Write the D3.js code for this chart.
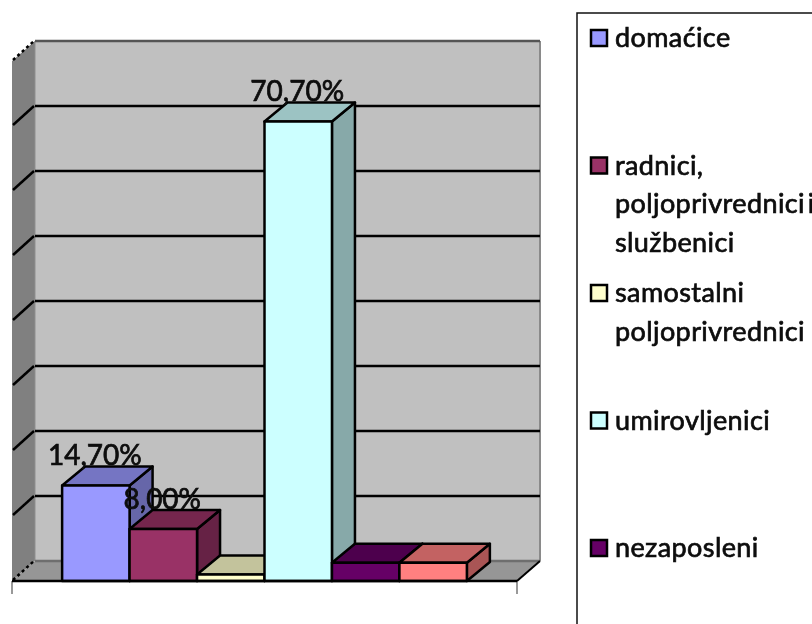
<!DOCTYPE html>
<html>
<head>
<meta charset="utf-8">
<script src="https://cdn.jsdelivr.net/npm/d3@7"></script>
<style>
  html, body { margin: 0; padding: 0; background: #fff; overflow: hidden; }
  svg { display: block; }
  text { font-family: Lato, "Open Sans", sans-serif; fill: #0c0c0c; }
</style>
</head>
<body>
<svg id="chart" width="812" height="624"></svg>
<script>
"use strict";

// values, in percent
let categories = ["domaćice", "radnici", "samostalni", "umirovljenici", "nezaposleni", "ostali"];
let values = [14.7, 8.0, 1.0, 70.7, 2.8, 2.8];
let barLabels = ["14,70%", "8,00%", "", "70,70%", "", ""];
let barColors = ["#9999ff", "#993366", "#ffffcc", "#ccffff", "#660066", "#ff8080"];
let gridTicks = [0, 10, 20, 30, 40, 50, 60, 70, 80];
let legendLines = [
  ["domaćice"],
  ["radnici,", "poljoprivrednici i", "službenici"],
  ["samostalni", "poljoprivrednici"],
  ["umirovljenici"],
  ["nezaposleni"]
];

let svg = d3.select("#chart");

// the reference is a slightly soft upscaled screenshot
svg.append("defs").append("filter").attr("id", "soft")
  .attr("x", 0).attr("y", 0).attr("width", "100%").attr("height", "100%")
  .attr("filterUnits", "userSpaceOnUse")
  .append("feGaussianBlur").attr("stdDeviation", 0.5);

let root = svg.append("g").attr("filter", "url(#soft)");

let plot = { left: 12, right: 517, bottom: 581, top: 61 };
let depth = { x: 23, y: 20 };
let barDepth = { x: 23, y: 19 };

let xScale = d3.scaleBand().domain(categories)
  .range([plot.left, plot.right]).paddingInner(0).paddingOuter(0.743);
let yScale = d3.scaleLinear().domain([0, 80]).range([plot.bottom, plot.top]);

function poly(points) {
  return d3.line()(points) + "Z";
}

function drawWalls() {
  let g = root.append("g");
  let y0 = yScale(0), yMax = yScale(80);
  let backLeft = plot.left + depth.x, backRight = plot.right + depth.x;

  g.append("rect").attr("width", 812).attr("height", 624).attr("fill", "#fff");
  g.append("path") // back wall
    .attr("d", poly([[backLeft, yMax - depth.y], [backRight, yMax - depth.y], [backRight, y0 - depth.y], [backLeft, y0 - depth.y]]))
    .attr("fill", "#c0c0c0");
  g.append("path") // side wall
    .attr("d", poly([[plot.left, yMax], [backLeft, yMax - depth.y], [backLeft, y0 - depth.y], [plot.left, y0]]))
    .attr("fill", "#808080");
  g.append("path") // floor
    .attr("d", poly([[plot.left, y0], [backLeft, y0 - depth.y], [backRight, y0 - depth.y], [plot.right, y0]]))
    .attr("fill", "#969696");

  // wall edges
  g.append("line")
    .attr("x1", backRight).attr("x2", backRight)
    .attr("y1", yMax - depth.y).attr("y2", y0 - depth.y)
    .attr("stroke", "#8a8a8a").attr("stroke-width", 2);
  g.append("line")
    .attr("x1", backLeft).attr("x2", backLeft)
    .attr("y1", yMax - depth.y).attr("y2", y0 - depth.y)
    .attr("stroke", "#8f8f8f").attr("stroke-width", 1);

  // gridlines, the outer ones are softer
  g.selectAll(".grid").data(gridTicks).enter().append("line").classed("grid", true)
    .attr("x1", backLeft).attr("x2", backRight)
    .attr("y1", d => yScale(d) - depth.y).attr("y2", d => yScale(d) - depth.y)
    .attr("stroke", d => d === 0 ? "#6e6e6e" : d === 80 ? "#555" : "#000")
    .attr("stroke-width", 2.5);
  g.selectAll(".grid-side").data(gridTicks).enter().append("line").classed("grid-side", true)
    .attr("x1", plot.left + 1).attr("x2", backLeft - 1)
    .attr("y1", d => yScale(d) - 1).attr("y2", d => yScale(d) - depth.y)
    .attr("stroke", "#000").attr("stroke-width", 2.5)
    .attr("stroke-dasharray", d => (d === 0 || d === 80) ? "3 3" : null);

  // category ticks at both ends of the floor
  g.selectAll(".x-tick").data([plot.left, plot.right]).enter().append("line").classed("x-tick", true)
    .attr("x1", d => d).attr("x2", d => d)
    .attr("y1", plot.bottom).attr("y2", plot.bottom + 13)
    .attr("stroke", "#777").attr("stroke-width", 1.5);

  // right edge of the floor
  g.append("line")
    .attr("x1", plot.right).attr("x2", backRight)
    .attr("y1", y0).attr("y2", y0 - depth.y)
    .attr("stroke", "#000").attr("stroke-width", 2);
}

function drawBars() {
  let g = root.append("g");
  let w = xScale.bandwidth();

  categories.forEach((cat, i) => {
    let x = xScale(cat), yTop = yScale(values[i]), yBase = yScale(0);
    let color = d3.rgb(barColors[i]);
    let dx = barDepth.x, dy = barDepth.y;

    let faces = [
      { pts: [[x + w, yTop], [x + w + dx, yTop - dy], [x + w + dx, yBase - dy], [x + w, yBase]], fill: color.darker(1.15) },
      { pts: [[x, yTop], [x + dx, yTop - dy], [x + w + dx, yTop - dy], [x + w, yTop]], fill: color.darker(0.75) },
      { pts: [[x, yTop], [x + w, yTop], [x + w, yBase], [x, yBase]], fill: color }
    ];
    faces.forEach(face => {
      g.append("path").attr("d", poly(face.pts))
        .attr("fill", face.fill)
        .attr("stroke", "#000").attr("stroke-width", 2.5)
        .attr("stroke-linejoin", "round");
    });
  });

  // front floor line goes over the bar bottoms
  g.append("line")
    .attr("x1", plot.left).attr("x2", plot.right)
    .attr("y1", plot.bottom).attr("y2", plot.bottom)
    .attr("stroke", "#000").attr("stroke-width", 2.5);

  g.selectAll(".bar-label").data(categories).enter().append("text").classed("bar-label", true)
    .attr("x", d => xScale(d) + w / 2 - 1)
    .attr("y", (d, i) => yScale(values[i]) - barDepth.y - 1)
    .attr("text-anchor", "middle")
    .style("font-size", "28px")
    .style("stroke", "#0c0c0c").style("stroke-width", "0.7px")
    .text((d, i) => barLabels[i]);
}

function drawLegend() {
  let g = root.append("g");
  let rowY = d3.scaleLinear().domain([0, legendLines.length - 1]).range([38, 548]);
  let lineHeight = 38.5;

  g.append("rect")
    .attr("x", 577).attr("y", 13)
    .attr("width", 260).attr("height", 640)
    .attr("fill", "#fff").attr("stroke", "#111").attr("stroke-width", 1.5);

  legendLines.forEach((lines, i) => {
    g.append("rect")
      .attr("x", 591).attr("y", rowY(i) - 8)
      .attr("width", 16).attr("height", 16)
      .attr("fill", barColors[i])
      .attr("stroke", "#000").attr("stroke-width", 2.5);

    lines.forEach((line, j) => {
      g.append("text")
        .attr("x", 615).attr("y", rowY(i) + 9 + j * lineHeight)
        .style("font-size", "27px")
        .style("letter-spacing", "0.4px")
        .style("word-spacing", "-4.5px")
        .style("stroke", "#0c0c0c").style("stroke-width", "0.7px")
        .text(line);
    });
  });
}

drawWalls();
drawBars();
drawLegend();
</script>
</body>
</html>
